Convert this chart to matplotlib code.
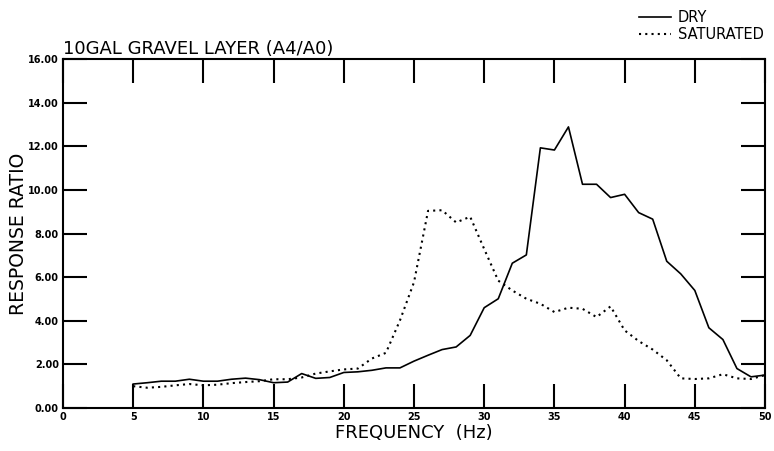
import matplotlib
matplotlib.use("Agg")
import matplotlib.pyplot as plt

freq = list(range(5, 51))
dry = [1.10, 1.16, 1.23, 1.23, 1.32, 1.23, 1.23, 1.32, 1.37, 1.30,
       1.16, 1.19, 1.58, 1.36, 1.40, 1.63, 1.66, 1.73, 1.84, 1.84,
       2.15, 2.42, 2.68, 2.80, 3.33, 4.60, 5.01, 6.64, 7.02, 11.93,
       11.83, 12.89, 10.26, 10.26, 9.65, 9.80, 8.96, 8.66, 6.73, 6.15,
       5.39, 3.68, 3.14, 1.81, 1.43, 1.51]
saturated = [1.00, 0.93, 0.97, 1.04, 1.10, 1.04, 1.07, 1.14, 1.19, 1.23,
             1.32, 1.32, 1.40, 1.58, 1.68, 1.77, 1.81, 2.27, 2.53, 4.02,
             5.77, 9.04, 9.07, 8.51, 8.77, 7.29, 5.84, 5.39, 5.01, 4.78,
             4.40, 4.60, 4.55, 4.17, 4.66, 3.56, 3.07, 2.68, 2.19, 1.36,
             1.33, 1.36, 1.55, 1.36, 1.33, 1.51]

xticks = [0, 5, 10, 15, 20, 25, 30, 35, 40, 45, 50]
yticks = [0, 2, 4, 6, 8, 10, 12, 14, 16]
ytick_labels = ["0.00", "2.00", "4.00", "6.00", "8.00", "10.00", "12.00", "14.00", "16.00"]

plt.rcParams['font.family'] = ['DejaVu Sans']
fig = plt.figure(figsize=(7.74, 4.51), dpi=100)
ax = fig.add_axes([0.0814, 0.0953, 0.9070, 0.7737])

ax.plot(freq, dry, color='black', lw=1.2, label='DRY')
ax.plot(freq, saturated, color='black', lw=1.5, linestyle=(0, (1, 2)), label='SATURATED')

ax.set_xlim(0, 50)
ax.set_ylim(0, 16)
ax.set_xticks(xticks)
ax.set_xticklabels([str(t) for t in xticks], fontsize=7, fontweight='bold')
ax.set_yticks(yticks)
ax.set_yticklabels(ytick_labels, fontsize=7, fontweight='bold')
ax.tick_params(axis='both', direction='in', length=17, width=1.5,
               top=True, right=True, pad=3)
for s in ax.spines.values():
    s.set_linewidth(1.5)

ax.set_xlabel('FREQUENCY  (Hz)', fontsize=13, labelpad=1)
ax.set_ylabel('RESPONSE RATIO', fontsize=13.5, labelpad=0)
ax.text(0.0, 1.003, '10GAL GRAVEL LAYER (A4/A0)', transform=ax.transAxes,
        ha='left', va='bottom', fontsize=13)

leg = fig.legend(loc='upper right', bbox_to_anchor=(1.0, 1.0), frameon=False,
                 fontsize=10.5, handlelength=2.2, handletextpad=0.5,
                 labelspacing=0.15, borderaxespad=0.3)

fig.savefig('out.png', dpi=100)
